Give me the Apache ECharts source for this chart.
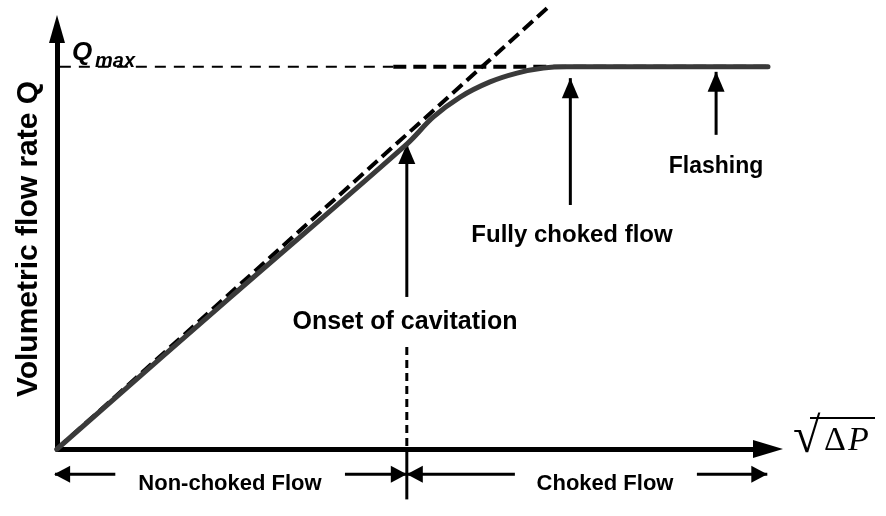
<!DOCTYPE html>
<html>
<head>
<meta charset="utf-8">
<title>Choked flow</title>
<script src="https://cdn.jsdelivr.net/npm/echarts@6/dist/echarts.min.js"></script>
<style>
html,body{margin:0;padding:0;background:#fff;}
#chartmain{width:886px;height:516px;}
</style>
</head>
<body>
<div id="chartmain"></div>
<script>
// flow curve: x = sqrt(dP), y = Q (arbitrary units)
var curveX = [0, 2.43, 4.92, 5.29, 5.67, 6.09, 6.47, 6.84, 7.17, 7.50, 10.0];
var curveY = [0, 3.60, 7.26, 7.90, 8.38, 8.74, 8.95, 9.07, 9.10, 9.10, 9.10];
var qMax = 9.1;
var tangentEnd = [6.91, 10.52];      // dashed linear extrapolation
var qMaxThinEnd = 4.73;              // thin dashes stop here, thick ones start

// marker positions (x) and arrow [tail, tip] (y)
var onsetX = 4.92;
var chokedX = 7.22;
var flashX = 9.27;
var onsetArrow = [3.62, 7.26];
var chokedArrow = [5.81, 8.83];
var flashArrow = [7.48, 8.98];
var onsetDash = [2.43, 0];

// dimension lines under the x axis
var dimY = -0.6;
var tickBottom = -1.2;
var nonChokedArms = [[-0.04, 0.82], [4.05, onsetX]];
var chokedArms = [[onsetX, 6.44], [9.00, 9.99]];

var curveData = curveX.map(function (x, i) { return [x, curveY[i]]; });

function seg(data, color, width, type, z) {
    return {
        type: 'line',
        data: data,
        symbol: 'none',
        clip: false,
        silent: true,
        animation: false,
        z: z || 2,
        itemStyle: {color: color, borderWidth: 0},
        lineStyle: {color: color, width: width, type: type || 'solid', cap: 'butt'},
        emphasis: {disabled: true}
    };
}

function head(pt, rotate, offset, size) {
    return {value: pt, symbol: 'triangle', symbolSize: size, symbolRotate: rotate, symbolOffset: offset};
}

function upArrow(x, ends) {
    return seg([[x, ends[0]], head([x, ends[1]], 0, [0, 10], [17, 20])], '#000', 3);
}
function leftArm(a) {
    return seg([head([a[0], dimY], 90, [8, 0], [17, 16]), [a[1], dimY]], '#000', 3);
}
function rightArm(a) {
    return seg([[a[0], dimY], head([a[1], dimY], -90, [-8, 0], [17, 16])], '#000', 3);
}

var txtFont = {fontFamily: 'Liberation Sans', fontWeight: 'bold', fill: '#000'};
function label(text, x, y, size) {
    return {
        type: 'text', x: x, y: y, silent: true,
        style: Object.assign({text: text, fontSize: size, align: 'center', verticalAlign: 'middle',
            textAlign: 'center', textVerticalAlign: 'middle'}, txtFont)
    };
}

var curveSeries = seg(curveData, '#3a3a3a', 5, 'solid', 3);
curveSeries.smooth = 0.35;
curveSeries.lineStyle.cap = 'round';

var option = {
    animation: false,
    grid: {left: 57, right: 118, top: 29, bottom: 67},
    xAxis: {
        type: 'value', min: 0, max: 10,
        axisLine: {show: true, symbol: ['none', 'triangle'], symbolSize: [18, 30],
            lineStyle: {color: '#000', width: 5}},
        axisTick: {show: false}, axisLabel: {show: false}, splitLine: {show: false}
    },
    yAxis: {
        type: 'value', min: 0, max: 10,
        name: 'Volumetric flow rate Q',
        nameLocation: 'middle', nameRotate: 90, nameGap: 13,
        nameTextStyle: {fontFamily: 'Liberation Sans', fontWeight: 'bold', fontSize: 30, color: '#000'},
        axisLine: {show: true, symbol: ['none', 'triangle'], symbolSize: [16, 28],
            lineStyle: {color: '#000', width: 5}},
        axisTick: {show: false}, axisLabel: {show: false}, splitLine: {show: false}
    },
    series: [
        seg([[0.04, qMax], [qMaxThinEnd, qMax]], '#000', 2, [11, 8]),
        seg([[qMaxThinEnd, qMax], [curveX[curveX.length - 1], qMax]], '#000', 4, [13, 7]),
        seg([[0, 0], tangentEnd], '#000', 4, [13, 6]),
        curveSeries,
        seg([[onsetX, onsetDash[0]], [onsetX, onsetDash[1]]], '#000', 3, [8, 5]),
        seg([[onsetX, 0], [onsetX, tickBottom]], '#000', 3),
        seg([[-0.05, 0], [-0.05, tickBottom]], '#000', 3),
        upArrow(onsetX, onsetArrow),
        upArrow(chokedX, chokedArrow),
        upArrow(flashX, flashArrow),
        leftArm(nonChokedArms[0]),
        rightArm(nonChokedArms[1]),
        leftArm(chokedArms[0]),
        rightArm(chokedArms[1])
    ],
    graphic: [
        label('Onset of cavitation', 405, 322, 25),
        label('Fully choked flow', 572, 235, 24),
        label('Flashing', 716, 167, 23),
        label('Non-choked Flow', 230, 484, 22),
        label('Choked Flow', 605, 484, 22),
        {type: 'text', x: 72, y: 53, silent: true,
            style: {text: 'Q', fontFamily: 'Liberation Sans', fontWeight: 'bold', fontStyle: 'italic',
                fontSize: 26, fill: '#000', verticalAlign: 'middle', textVerticalAlign: 'middle'}},
        {type: 'text', x: 95, y: 61, silent: true,
            style: {text: 'max', fontFamily: 'Liberation Sans', fontWeight: 'bold', fontStyle: 'italic',
                fontSize: 20, fill: '#000', verticalAlign: 'middle', textVerticalAlign: 'middle'}},
        {type: 'text', x: 793, y: 439, silent: true,
            style: {text: '\u221A', fontFamily: 'Liberation Serif', fontSize: 50, fill: '#000',
                verticalAlign: 'middle', textVerticalAlign: 'middle'}},
        {type: 'text', x: 824, y: 441, silent: true,
            style: {text: '\u0394', fontFamily: 'Liberation Serif', fontSize: 34, fill: '#000',
                verticalAlign: 'middle', textVerticalAlign: 'middle'}},
        {type: 'text', x: 848, y: 441, silent: true,
            style: {text: 'P', fontFamily: 'Liberation Serif', fontStyle: 'italic', fontSize: 34, fill: '#000',
                verticalAlign: 'middle', textVerticalAlign: 'middle'}},
        {type: 'line', silent: true, shape: {x1: 810, y1: 418, x2: 875, y2: 418},
            style: {stroke: '#000', lineWidth: 2}}
    ]
};

var myChart = echarts.init(document.getElementById('chartmain'));
myChart.setOption(option);
</script>
</body>
</html>
